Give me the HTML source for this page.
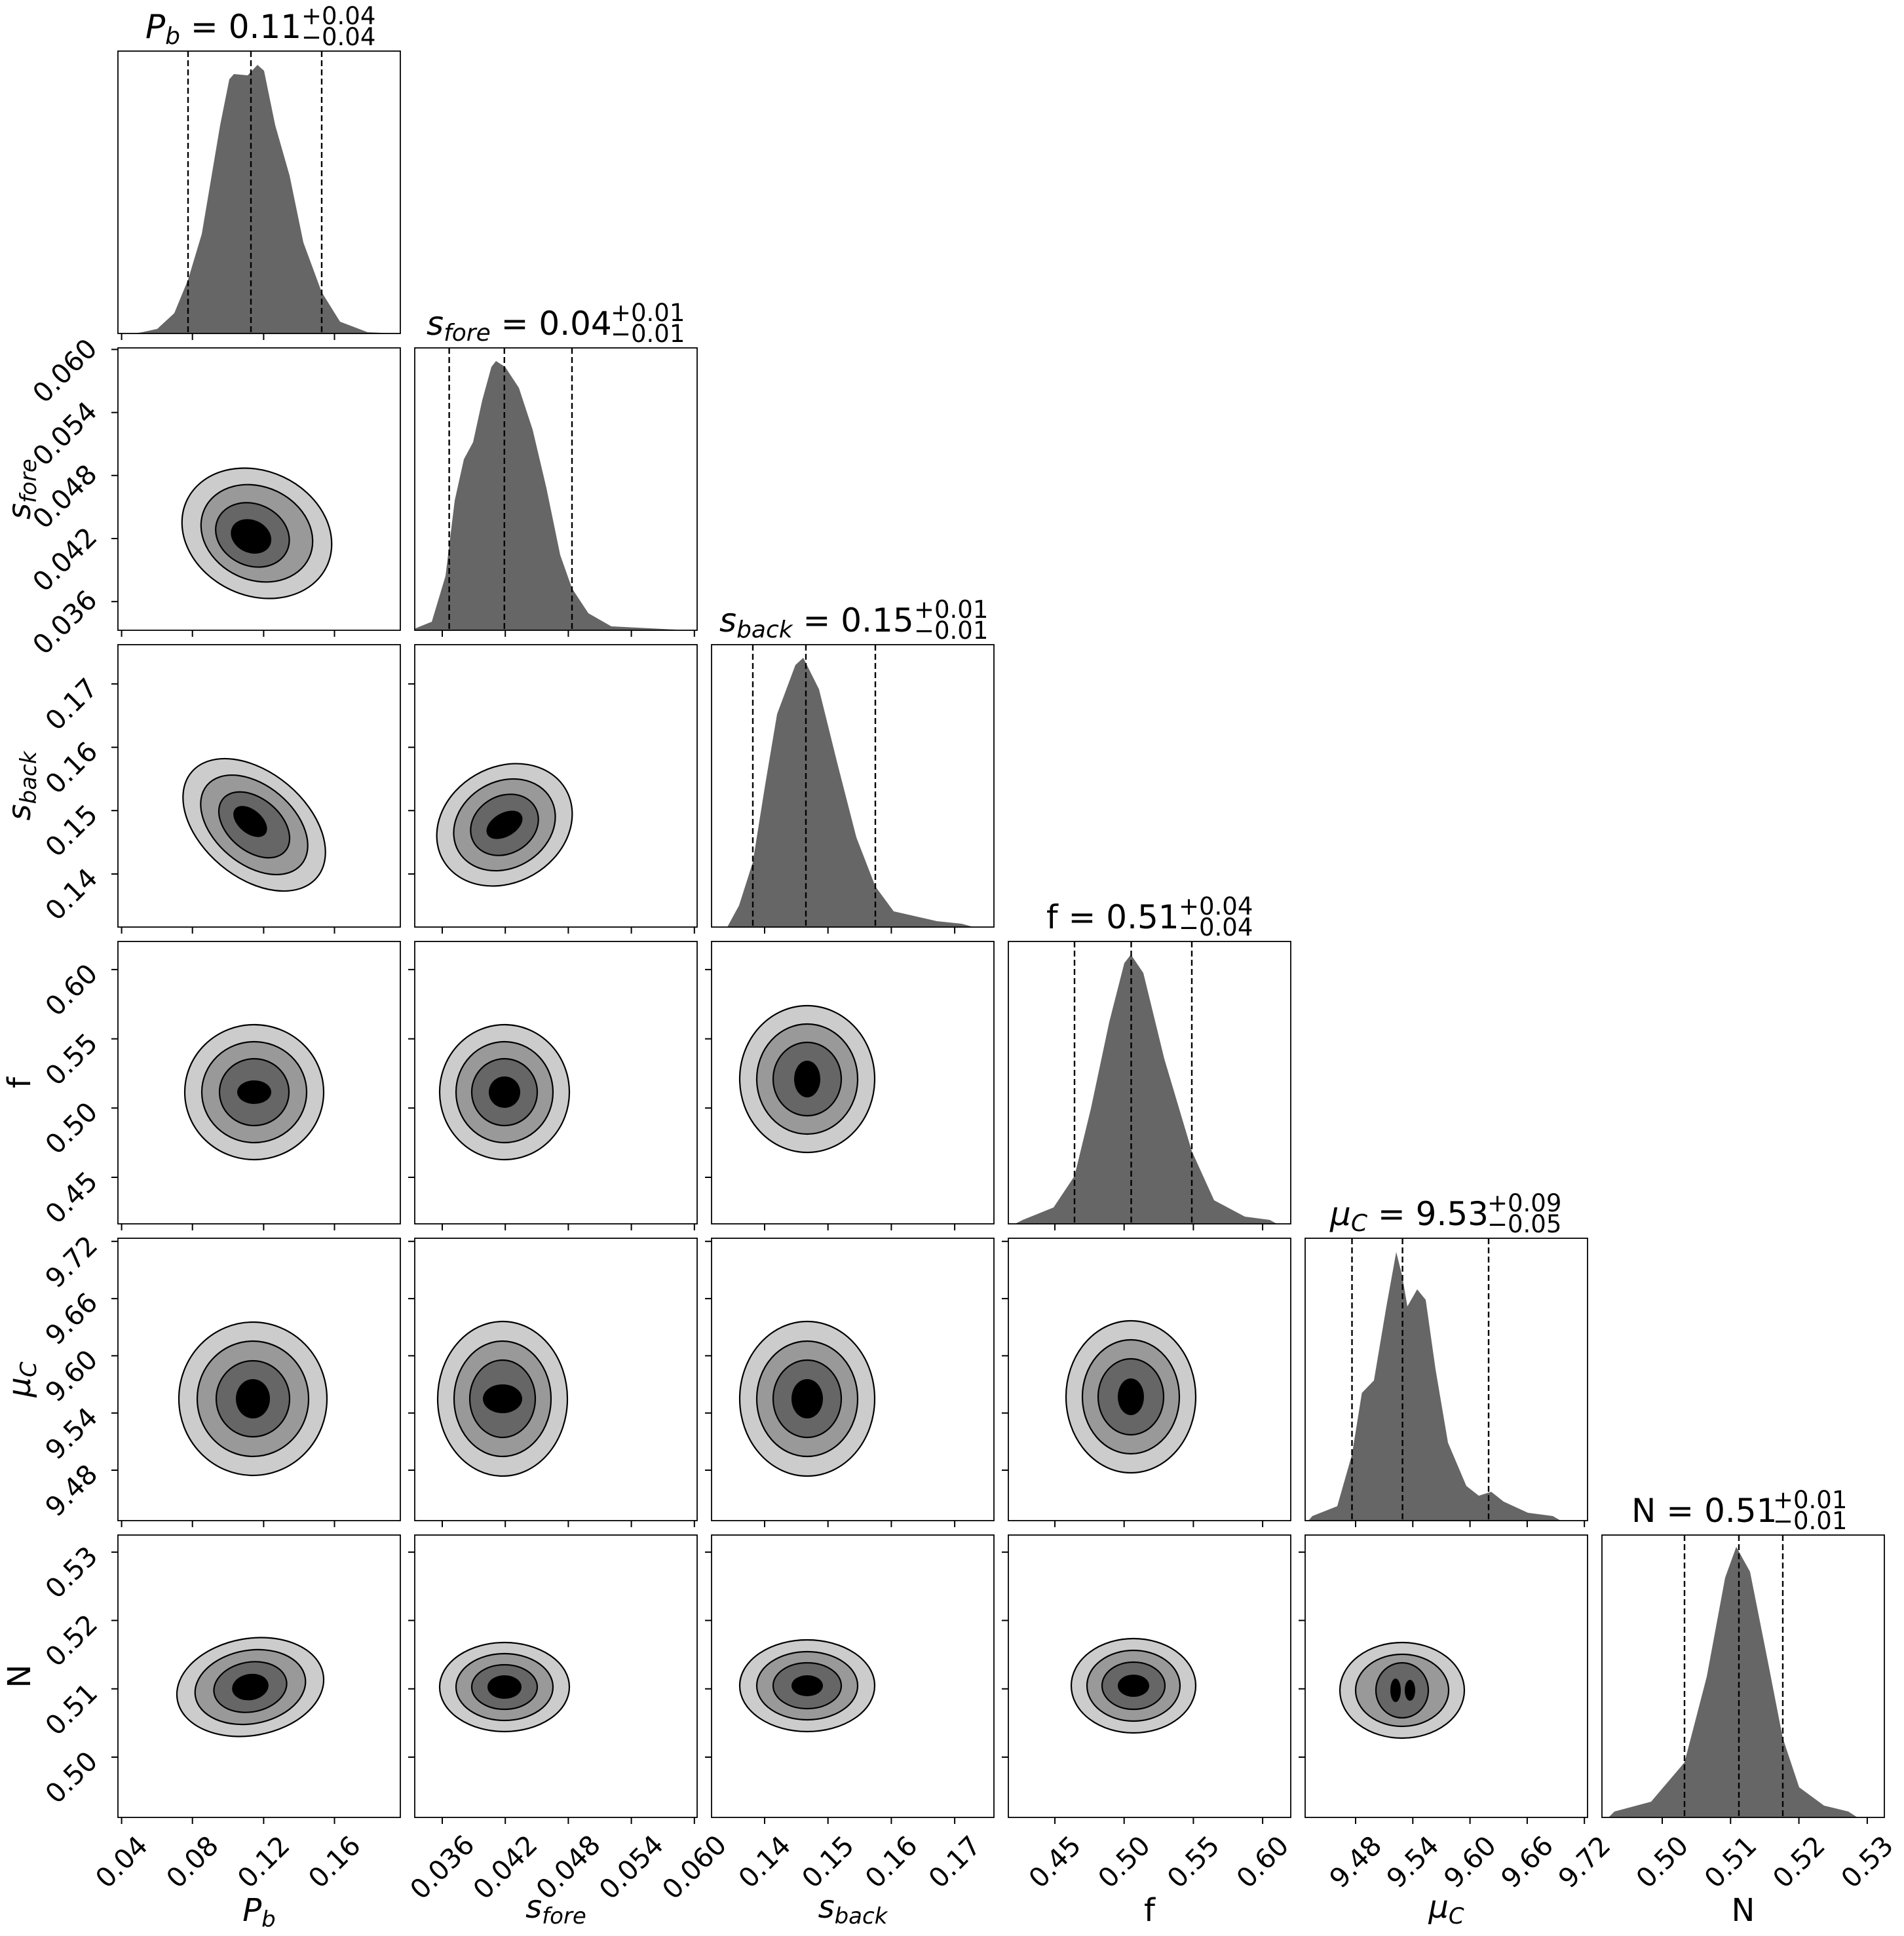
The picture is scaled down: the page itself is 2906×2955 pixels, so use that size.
<!DOCTYPE html>
<html><head><meta charset="utf-8"><style>html,body{margin:0;padding:0;background:#fff}svg{display:block}</style></head>
<body>
<svg xmlns="http://www.w3.org/2000/svg" width="2906" height="2955" viewBox="0 0 2906 2955" font-family="'DejaVu Sans','Liberation Sans',sans-serif">
<rect width="2906" height="2955" fill="#fff"/>
<defs>
<g id="frame"><rect x="0" y="0" width="431" height="431" fill="none" stroke="#000" stroke-width="1.8"/></g>
</defs>
<style>
.c1{fill:#cccccc;stroke:#000;stroke-width:2.2}
.c2{fill:#999999;stroke:#000;stroke-width:2.2}
.c3{fill:#666666;stroke:#000;stroke-width:2.2}
.c4{fill:#000}
.h{fill:#666666;stroke:none}
.d{stroke:#000;stroke-width:2.4;stroke-dasharray:9 5}
.t{stroke:#000;stroke-width:2}
.tl{font-size:41px;text-anchor:middle;dominant-baseline:central}
.ti{font-size:50px}
.sc{font-size:37px}
.al{font-size:48px;text-anchor:middle}
</style>

<g transform="translate(180,78)">
<polygon class="h" points="25,431 37,429 60,424 86,400 107,349 128,279 156,113 170,43 177,35 198,37 213,21 223,30 240,113 262,190 283,292 311,368 339,413 381,429 423,431"/>
<line class="d" x1="107" y1="0" x2="107" y2="431"/><line class="d" x1="203" y1="0" x2="203" y2="431"/><line class="d" x1="311" y1="0" x2="311" y2="431"/>
<use href="#frame"/>
</g>
<g transform="translate(633,531)">
<polygon class="h" points="1,431 1,428 26,418 47,348 61,233 75,170 89,144 103,80 117,29 124,20 138,29 159,61 180,125 201,214 222,316 240,367 265,405 300,425 398,430 400,431"/>
<line class="d" x1="52.6" y1="0" x2="52.6" y2="431"/><line class="d" x1="136.8" y1="0" x2="136.8" y2="431"/><line class="d" x1="240" y1="0" x2="240" y2="431"/>
<use href="#frame"/>
</g>
<g transform="translate(1086,984)">
<polygon class="h" points="24,431 42,398 63,332 81,219 100,106 128,31 140,20 164,68 192,181 221,294 250,369 278,407 344,422 382,426 400,431"/>
<line class="d" x1="63" y1="0" x2="63" y2="431"/><line class="d" x1="144" y1="0" x2="144" y2="431"/><line class="d" x1="250" y1="0" x2="250" y2="431"/>
<use href="#frame"/>
</g>
<g transform="translate(1539,1437)">
<polygon class="h" points="10,431 22,425 69,406 101,358 126,255 154,123 177,33 187,20 206,48 238,179 280,320 314,395 361,420 399,425 410,431"/>
<line class="d" x1="101" y1="0" x2="101" y2="431"/><line class="d" x1="187.5" y1="0" x2="187.5" y2="431"/><line class="d" x1="280" y1="0" x2="280" y2="431"/>
<use href="#frame"/>
</g>
<g transform="translate(1992,1890)">
<polygon class="h" points="5,431 11,424 49,409 71.5,330 86.6,236 105,217 124,104 139,21 148,57 156,104 171,78 184,94 199,200 218,312 246,378 265,393 284,387 303,402 340,419 378,424 390,431"/>
<line class="d" x1="71.5" y1="0" x2="71.5" y2="431"/><line class="d" x1="148.6" y1="0" x2="148.6" y2="431"/><line class="d" x1="280" y1="0" x2="280" y2="431"/>
<use href="#frame"/>
</g>
<g transform="translate(2445,2343)">
<polygon class="h" points="10,431 19,422 75,407 126,347 160,216 188,65 205,18 226,56 254,197 276,310 301,385 339,413 376,422 390,431"/>
<line class="d" x1="126" y1="0" x2="126" y2="431"/><line class="d" x1="209" y1="0" x2="209" y2="431"/><line class="d" x1="276" y1="0" x2="276" y2="431"/>
<use href="#frame"/>
</g>

<g transform="translate(180,531)">
<g transform="translate(212,283) rotate(25)"><ellipse class="c1" rx="118" ry="95"/><ellipse class="c2" rx="88" ry="71"/><ellipse class="c3" rx="58" ry="47" cx="-5" cy="5"/><ellipse class="c4" rx="32" ry="25" cx="-6" cy="8"/></g>
<use href="#frame"/></g>
<g transform="translate(180,984)">
<g transform="translate(208,275) rotate(40)"><ellipse class="c1" rx="125" ry="80"/><ellipse class="c2" rx="94" ry="60"/><ellipse class="c3" rx="62" ry="40"/><ellipse class="c4" rx="30" ry="18" cx="-8"/></g>
<use href="#frame"/></g>
<g transform="translate(633,984)">
<g transform="translate(137,275) rotate(-30)"><ellipse class="c1" rx="108" ry="88"/><ellipse class="c2" rx="81" ry="66"/><ellipse class="c3" rx="54" ry="44"/><ellipse class="c4" rx="30" ry="18"/></g>
<use href="#frame"/></g>
<g transform="translate(180,1437)">
<g transform="translate(208,230)"><ellipse class="c1" rx="106" ry="103"/><ellipse class="c2" rx="80" ry="77"/><ellipse class="c3" rx="53" ry="51"/><ellipse class="c4" rx="26" ry="18"/></g>
<use href="#frame"/></g>
<g transform="translate(633,1437)">
<g transform="translate(137,230)"><ellipse class="c1" rx="99" ry="103"/><ellipse class="c2" rx="74" ry="77"/><ellipse class="c3" rx="50" ry="51"/><ellipse class="c4" rx="24" ry="24"/></g>
<use href="#frame"/></g>
<g transform="translate(1086,1437)">
<g transform="translate(146,210)"><ellipse class="c1" rx="103" ry="112"/><ellipse class="c2" rx="77" ry="84"/><ellipse class="c3" rx="52" ry="56"/><ellipse class="c4" rx="20" ry="28"/></g>
<use href="#frame"/></g>
<g transform="translate(180,1890)">
<ellipse class="c1" cx="209" cy="145" rx="14" ry="8"/>
<g transform="translate(206,245)"><ellipse class="c1" rx="113" ry="117"/><ellipse class="c2" rx="85" ry="88"/><ellipse class="c3" rx="56" ry="58"/><ellipse class="c4" rx="26" ry="30"/></g>
<use href="#frame"/></g>
<g transform="translate(633,1890)">
<g transform="translate(134,245)"><ellipse class="c1" rx="99" ry="118"/><ellipse class="c2" rx="74" ry="88"/><ellipse class="c3" rx="50" ry="59"/><ellipse class="c4" rx="30" ry="22"/></g>
<use href="#frame"/></g>
<g transform="translate(1086,1890)">
<ellipse class="c1" cx="152" cy="153" rx="8" ry="5"/>
<g transform="translate(146,245)"><ellipse class="c1" rx="103" ry="118"/><ellipse class="c2" rx="77" ry="88"/><ellipse class="c3" rx="52" ry="59"/><ellipse class="c4" rx="24" ry="30"/></g>
<use href="#frame"/></g>
<g transform="translate(1539,1890)">
<g transform="translate(187,242)"><ellipse class="c1" rx="99" ry="116"/><ellipse class="c2" rx="74" ry="87"/><ellipse class="c3" rx="50" ry="58"/><ellipse class="c4" rx="20" ry="28"/></g>
<use href="#frame"/></g>
<g transform="translate(180,2343)">
<g transform="translate(202,232) rotate(-10)"><ellipse class="c1" rx="113" ry="74"/><ellipse class="c2" rx="85" ry="56"/><ellipse class="c3" rx="56" ry="38"/><ellipse class="c4" rx="28" ry="20"/></g>
<use href="#frame"/></g>
<g transform="translate(633,2343)">
<g transform="translate(137,232)"><ellipse class="c1" rx="99" ry="68"/><ellipse class="c2" rx="74" ry="51"/><ellipse class="c3" rx="50" ry="34"/><ellipse class="c4" rx="26" ry="18"/></g>
<use href="#frame"/></g>
<g transform="translate(1086,2343)">
<g transform="translate(146,230)"><ellipse class="c1" rx="103" ry="70"/><ellipse class="c2" rx="77" ry="52"/><ellipse class="c3" rx="52" ry="35"/><ellipse class="c4" rx="24" ry="16"/></g>
<use href="#frame"/></g>
<g transform="translate(1539,2343)">
<g transform="translate(191,230)"><ellipse class="c1" rx="95" ry="72"/><ellipse class="c2" rx="71" ry="54"/><ellipse class="c3" rx="48" ry="36"/><ellipse class="c4" rx="24" ry="17"/></g>
<use href="#frame"/></g>
<g transform="translate(1992,2343)">
<g transform="translate(148,237)"><ellipse class="c1" rx="95" ry="73"/><ellipse class="c2" rx="71" ry="55"/><ellipse class="c3" rx="40" ry="42"/><ellipse class="c4" rx="8" ry="18" cx="-10"/><ellipse class="c4" rx="8" ry="16" cx="12"/></g>
<use href="#frame"/></g>

<g class="t">
<path d="M185.6,509v10M293.7,509v10M402.4,509v10M510.5,509v10 M185.6,962v10M293.7,962v10M402.4,962v10M510.5,962v10 M185.6,1415v10M293.7,1415v10M402.4,1415v10M510.5,1415v10 M185.6,1868v10M293.7,1868v10M402.4,1868v10M510.5,1868v10 M185.6,2321v10M293.7,2321v10M402.4,2321v10M510.5,2321v10 M185.6,2774v10M293.7,2774v10M402.4,2774v10M510.5,2774v10"/>
<path d="M675,962v10M771.2,962v10M867.4,962v10M963.6,962v10M1059.8,962v10 M675,1415v10M771.2,1415v10M867.4,1415v10M963.6,1415v10M1059.8,1415v10 M675,1868v10M771.2,1868v10M867.4,1868v10M963.6,1868v10M1059.8,1868v10 M675,2321v10M771.2,2321v10M867.4,2321v10M963.6,2321v10M1059.8,2321v10 M675,2774v10M771.2,2774v10M867.4,2774v10M963.6,2774v10M1059.8,2774v10"/>
<path d="M1167,1415v10M1263.7,1415v10M1360.4,1415v10M1457.1,1415v10 M1167,1868v10M1263.7,1868v10M1360.4,1868v10M1457.1,1868v10 M1167,2321v10M1263.7,2321v10M1360.4,2321v10M1457.1,2321v10 M1167,2774v10M1263.7,2774v10M1360.4,2774v10M1457.1,2774v10"/>
<path d="M1610,1868v10M1715.7,1868v10M1821.4,1868v10M1927.1,1868v10 M1610,2321v10M1715.7,2321v10M1821.4,2321v10M1927.1,2321v10 M1610,2774v10M1715.7,2774v10M1821.4,2774v10M1927.1,2774v10"/>
<path d="M2069,2321v10M2156.3,2321v10M2243.6,2321v10M2330.9,2321v10M2418.2,2321v10 M2069,2774v10M2156.3,2774v10M2243.6,2774v10M2330.9,2774v10M2418.2,2774v10"/>
<path d="M2537,2774v10M2641.3,2774v10M2745.6,2774v10M2849.9,2774v10"/>
</g>

<g class="t">
<path d="M170,533.4h10M170,629.6h10M170,725.8h10M170,822h10M170,918.2h10"/>
<path d="M170,1043.9h10M170,1140.6h10M170,1237.3h10M170,1334h10 M623,1043.9h10M623,1140.6h10M623,1237.3h10M623,1334h10"/>
<path d="M170,1479.9h10M170,1585.6h10M170,1691.3h10M170,1797h10 M623,1479.9h10M623,1585.6h10M623,1691.3h10M623,1797h10 M1076,1479.9h10M1076,1585.6h10M1076,1691.3h10M1076,1797h10"/>
<path d="M170,1894.8h10M170,1982.1h10M170,2069.4h10M170,2156.7h10M170,2244h10 M623,1894.8h10M623,1982.1h10M623,2069.4h10M623,2156.7h10M623,2244h10 M1076,1894.8h10M1076,1982.1h10M1076,2069.4h10M1076,2156.7h10M1076,2244h10 M1529,1894.8h10M1529,1982.1h10M1529,2069.4h10M1529,2156.7h10M1529,2244h10"/>
<path d="M170,2369.1h10M170,2473.4h10M170,2577.7h10M170,2682h10 M623,2369.1h10M623,2473.4h10M623,2577.7h10M623,2682h10 M1076,2369.1h10M1076,2473.4h10M1076,2577.7h10M1076,2682h10 M1529,2369.1h10M1529,2473.4h10M1529,2577.7h10M1529,2682h10 M1982,2369.1h10M1982,2473.4h10M1982,2577.7h10M1982,2682h10"/>
</g>

<g class="tl">
<text transform="translate(99,566) rotate(-45)">0.060</text>
<text transform="translate(99,662) rotate(-45)">0.054</text>
<text transform="translate(99,758) rotate(-45)">0.048</text>
<text transform="translate(99,854) rotate(-45)">0.042</text>
<text transform="translate(99,950) rotate(-45)">0.036</text>

<text transform="translate(109,1075) rotate(-45)">0.17</text>
<text transform="translate(109,1172) rotate(-45)">0.16</text>
<text transform="translate(109,1268) rotate(-45)">0.15</text>
<text transform="translate(109,1365) rotate(-45)">0.14</text>

<text transform="translate(109,1511) rotate(-45)">0.60</text>
<text transform="translate(109,1617) rotate(-45)">0.55</text>
<text transform="translate(109,1722) rotate(-45)">0.50</text>
<text transform="translate(109,1828) rotate(-45)">0.45</text>

<text transform="translate(109,1926) rotate(-45)">9.72</text>
<text transform="translate(109,2013) rotate(-45)">9.66</text>
<text transform="translate(109,2100) rotate(-45)">9.60</text>
<text transform="translate(109,2188) rotate(-45)">9.54</text>
<text transform="translate(109,2275) rotate(-45)">9.48</text>

<text transform="translate(109,2400) rotate(-45)">0.53</text>
<text transform="translate(109,2504) rotate(-45)">0.52</text>
<text transform="translate(109,2609) rotate(-45)">0.51</text>
<text transform="translate(109,2713) rotate(-45)">0.50</text>
</g>

<g class="tl">
<text transform="translate(185.6,2842) rotate(-45)">0.04</text>
<text transform="translate(293.7,2842) rotate(-45)">0.08</text>
<text transform="translate(402.4,2842) rotate(-45)">0.12</text>
<text transform="translate(510.5,2842) rotate(-45)">0.16</text>

<text transform="translate(675,2850) rotate(-45)">0.036</text>
<text transform="translate(771.2,2850) rotate(-45)">0.042</text>
<text transform="translate(867.4,2850) rotate(-45)">0.048</text>
<text transform="translate(963.6,2850) rotate(-45)">0.054</text>
<text transform="translate(1059.8,2850) rotate(-45)">0.060</text>

<text transform="translate(1167,2842) rotate(-45)">0.14</text>
<text transform="translate(1263.7,2842) rotate(-45)">0.15</text>
<text transform="translate(1360.4,2842) rotate(-45)">0.16</text>
<text transform="translate(1457.1,2842) rotate(-45)">0.17</text>

<text transform="translate(1610,2842) rotate(-45)">0.45</text>
<text transform="translate(1715.7,2842) rotate(-45)">0.50</text>
<text transform="translate(1821.4,2842) rotate(-45)">0.55</text>
<text transform="translate(1927.1,2842) rotate(-45)">0.60</text>

<text transform="translate(2069,2842) rotate(-45)">9.48</text>
<text transform="translate(2156.3,2842) rotate(-45)">9.54</text>
<text transform="translate(2243.6,2842) rotate(-45)">9.60</text>
<text transform="translate(2330.9,2842) rotate(-45)">9.66</text>
<text transform="translate(2418.2,2842) rotate(-45)">9.72</text>

<text transform="translate(2537,2842) rotate(-45)">0.50</text>
<text transform="translate(2641.3,2842) rotate(-45)">0.51</text>
<text transform="translate(2745.6,2842) rotate(-45)">0.52</text>
<text transform="translate(2849.9,2842) rotate(-45)">0.53</text>
</g>

<g class="al">
<text x="395.5" y="2932"><tspan font-style="italic">P</tspan><tspan font-style="italic" font-size="34" dy="9">b</tspan></text>
<text x="848.5" y="2927"><tspan font-style="italic">s</tspan><tspan font-style="italic" font-size="34" dy="9">fore</tspan></text>
<text x="1301.5" y="2927"><tspan font-style="italic">s</tspan><tspan font-style="italic" font-size="34" dy="9">back</tspan></text>
<text x="1754.5" y="2932">f</text>
<text x="2207.5" y="2927"><tspan font-style="italic">μ</tspan><tspan font-style="italic" font-size="34" dy="9">C</tspan></text>
<text x="2660.5" y="2932">N</text>
</g>

<g class="al">
<text transform="translate(46,746.5) rotate(-90)"><tspan font-style="italic">s</tspan><tspan font-style="italic" font-size="34" dy="9">fore</tspan></text>
<text transform="translate(46,1199.5) rotate(-90)"><tspan font-style="italic">s</tspan><tspan font-style="italic" font-size="34" dy="9">back</tspan></text>
<text transform="translate(46,1652.5) rotate(-90)">f</text>
<text transform="translate(46,2105.5) rotate(-90)"><tspan font-style="italic">μ</tspan><tspan font-style="italic" font-size="34" dy="9">C</tspan></text>
<text transform="translate(46,2558.5) rotate(-90)">N</text>
</g>

<g class="ti">
<text x="222" y="58"><tspan font-style="italic">P</tspan><tspan font-style="italic" font-size="36" dy="9">b</tspan><tspan dy="-9"> = 0.11</tspan></text>
<text class="sc" x="460" y="37">+0.04</text><text class="sc" x="460" y="69">−0.04</text>

<text x="651" y="511"><tspan font-style="italic">s</tspan><tspan font-style="italic" font-size="36" dy="9">fore</tspan><tspan dy="-9"> = 0.04</tspan></text>
<text class="sc" x="932" y="490">+0.01</text><text class="sc" x="932" y="522">−0.01</text>

<text x="1098" y="964"><tspan font-style="italic">s</tspan><tspan font-style="italic" font-size="36" dy="9">back</tspan><tspan dy="-9"> = 0.15</tspan></text>
<text class="sc" x="1395" y="943">+0.01</text><text class="sc" x="1395" y="975">−0.01</text>

<text x="1597" y="1417">f = 0.51</text>
<text class="sc" x="1799" y="1396">+0.04</text><text class="sc" x="1799" y="1428">−0.04</text>

<text x="2030" y="1870"><tspan font-style="italic">μ</tspan><tspan font-style="italic" font-size="36" dy="9">C</tspan><tspan dy="-9"> = 9.53</tspan></text>
<text class="sc" x="2270" y="1849">+0.09</text><text class="sc" x="2270" y="1881">−0.05</text>

<text x="2490" y="2323">N = 0.51</text>
<text class="sc" x="2706" y="2302">+0.01</text><text class="sc" x="2706" y="2334">−0.01</text>
</g>
</svg>
</body></html>
